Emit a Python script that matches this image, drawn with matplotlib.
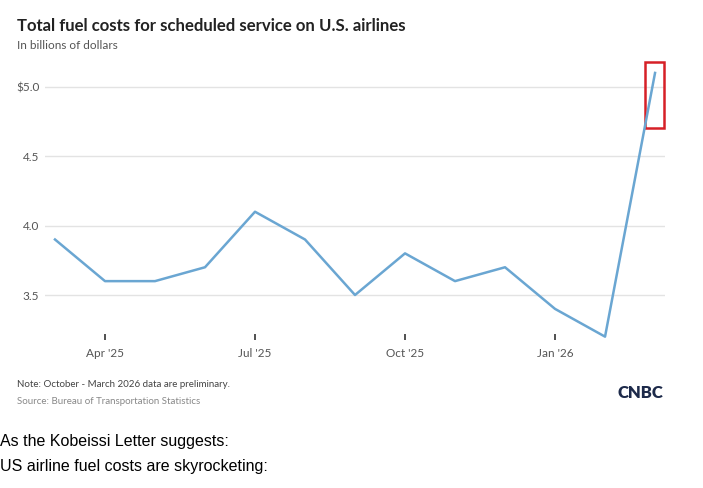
import matplotlib.pyplot as plt
from matplotlib.patches import Rectangle

# Monthly fuel costs, Mar '25 - Mar '26 (billions of dollars)
months = ["Mar '25", "Apr '25", "May '25", "Jun '25", "Jul '25", "Aug '25", "Sep '25",
          "Oct '25", "Nov '25", "Dec '25", "Jan '26", "Feb '26", "Mar '26"]
fuel_costs = [3.9, 3.6, 3.6, 3.7, 4.1, 3.9, 3.5, 3.8, 3.6, 3.7, 3.4, 3.2, 5.1]
yticks = [3.5, 4.0, 4.5, 5.0]
ytick_labels = ['3.5', '4.0', '4.5', '$5.0']
xtick_idx = [1, 4, 7, 10]

plt.rcParams['font.family'] = ['Lato', 'DejaVu Sans']

fig = plt.figure(figsize=(7.03, 4.88), dpi=100)
ax = fig.add_axes([0.064, 0.309, 0.882, 0.570])

x = list(range(len(months)))
ax.plot(x, fuel_costs, color='#6aa6d2', linewidth=1.8, clip_on=False)

ax.set_xlim(-0.2, 12.2)
ax.set_ylim(3.196, 5.2)
ax.set_yticks(yticks)
ax.set_yticklabels(ytick_labels)
ax.set_xticks(xtick_idx)
ax.set_xticklabels([months[i] for i in xtick_idx])
ax.grid(axis='y', color='#e3e3e3', linewidth=1)
ax.set_axisbelow(True)
for s in ax.spines.values():
    s.set_visible(False)
ax.tick_params(axis='y', length=0, pad=4, labelsize=8.5, labelcolor='#555555')
ax.tick_params(axis='x', direction='inout', length=5, width=1.2, color='#333333', pad=5,
               labelsize=8.5, labelcolor='#555555')

# red highlight box around the last point
ax.add_patch(Rectangle((11.8, 4.70), 0.38, 0.48, fill=False,
                       edgecolor='#d62027', linewidth=1.8, clip_on=False))

fig.text(0.024, 0.947, 'Total fuel costs for scheduled service on U.S. airlines',
         fontsize=12.1, fontweight='bold', color='#222222', va='center')
fig.text(0.024, 0.907, 'In billions of dollars', fontsize=8.5, color='#555555', va='center')

fig.text(0.024, 0.213, 'Note: October - March 2026 data are preliminary.',
         fontsize=7, color='#444444', va='center')
fig.text(0.024, 0.178, 'Source: Bureau of Transportation Statistics',
         fontsize=7, color='#888888', va='center')
fig.text(0.944, 0.194, 'CNBC', fontsize=12, fontweight='heavy', color='#1d2a4a',
         ha='right', va='center')

fig.text(0.0, 0.096, 'As the Kobeissi Letter suggests:', fontsize=11.5,
         family='Liberation Sans', color='black', va='center')
fig.text(0.0, 0.045, 'US airline fuel costs are skyrocketing:', fontsize=11.5,
         family='Liberation Sans', color='black', va='center')

fig.savefig('out.png', dpi=100)
